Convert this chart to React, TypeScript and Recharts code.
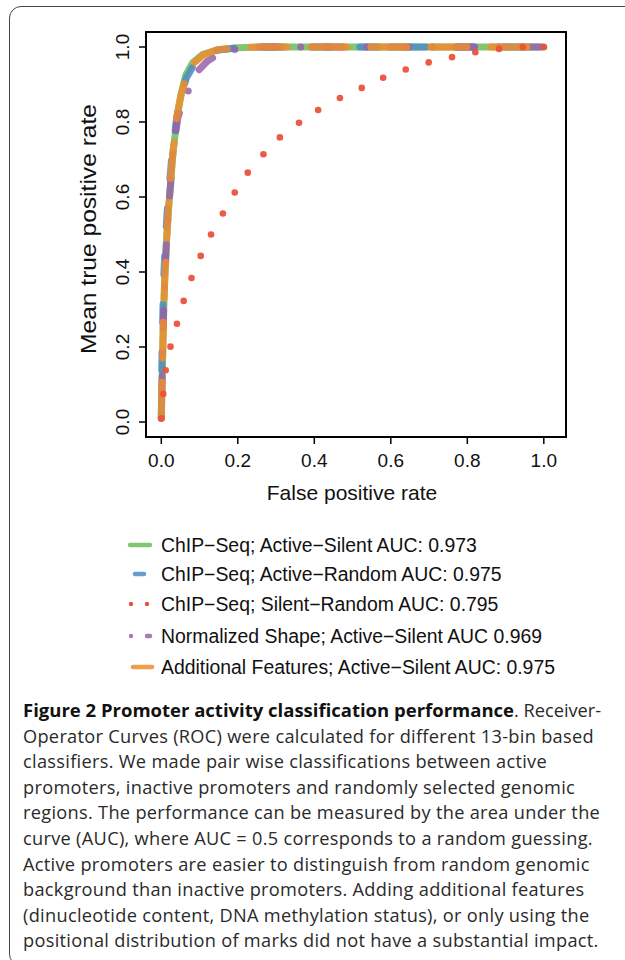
import React from "react";
import { LineChart, Line, XAxis, YAxis, ReferenceArea } from "recharts";

// ROC curves, values
const greenFpr = [0, 0.002, 0.004, 0.006, 0.009, 0.013, 0.018, 0.025, 0.031, 0.036, 0.041, 0.053, 0.064, 0.082, 0.108, 0.145, 0.197, 0.26, 0.5, 0.75, 1.0];
const greenTpr = [0.01, 0.11, 0.2, 0.29, 0.38, 0.47, 0.556, 0.645, 0.725, 0.765, 0.815, 0.88, 0.925, 0.958, 0.98, 0.992, 0.998, 1.0, 1.0, 1.0, 1.0];

const blueFpr = [0, 0.001, 0.002, 0.004, 0.006, 0.01, 0.015, 0.022, 0.029, 0.035, 0.04, 0.052, 0.066, 0.085, 0.11, 0.145, 0.2, 0.26, 0.5, 0.75, 1.0];
const blueTpr = [0.01, 0.11, 0.2, 0.29, 0.38, 0.47, 0.556, 0.645, 0.725, 0.765, 0.81, 0.872, 0.918, 0.952, 0.976, 0.991, 0.998, 1.0, 1.0, 1.0, 1.0];

const redFpr = [0, 0.005, 0.0115, 0.024, 0.041, 0.0585, 0.079, 0.103, 0.13, 0.161, 0.192, 0.226, 0.267, 0.31, 0.36, 0.41, 0.467, 0.524, 0.58, 0.639, 0.699, 0.76, 0.821, 0.883, 0.945, 1.0];
const redTpr = [0.01, 0.075, 0.138, 0.201, 0.262, 0.323, 0.384, 0.443, 0.5, 0.556, 0.612, 0.665, 0.714, 0.759, 0.798, 0.832, 0.864, 0.891, 0.918, 0.94, 0.959, 0.973, 0.986, 0.995, 1.0, 1.0];

const purpleFpr = [0, 0.002, 0.004, 0.006, 0.009, 0.013, 0.018, 0.025, 0.031, 0.037, 0.043, 0.057, 0.073, 0.095, 0.12, 0.145, 0.175, 0.21, 0.26, 0.5, 0.75, 1.0];
const purpleTpr = [0.01, 0.11, 0.2, 0.29, 0.38, 0.47, 0.556, 0.645, 0.725, 0.765, 0.81, 0.855, 0.888, 0.935, 0.962, 0.978, 0.99, 0.997, 1.0, 1.0, 1.0, 1.0];

const orangeFpr = [0, 0.002, 0.004, 0.006, 0.009, 0.013, 0.018, 0.024, 0.031, 0.036, 0.04, 0.052, 0.065, 0.083, 0.11, 0.145, 0.197, 0.26, 0.5, 0.75, 1.0];
const orangeTpr = [0.01, 0.11, 0.2, 0.29, 0.38, 0.47, 0.556, 0.645, 0.725, 0.76, 0.81, 0.875, 0.92, 0.955, 0.979, 0.992, 0.999, 1.0, 1.0, 1.0, 1.0];

const ticks = [0, 0.2, 0.4, 0.6, 0.8, 1.0];

const seriesNames = [
  "ChIP\u2212Seq; Active\u2212Silent AUC: 0.973",
  "ChIP\u2212Seq; Active\u2212Random AUC: 0.975",
  "ChIP\u2212Seq; Silent\u2212Random AUC: 0.795",
  "Normalized Shape; Active\u2212Silent AUC 0.969",
  "Additional Features; Active\u2212Silent AUC: 0.975",
];

const captionRest = [
  "Operator Curves (ROC) were calculated for different 13-bin based",
  "classifiers. We made pair wise classifications between active",
  "promoters, inactive promoters and randomly selected genomic",
  "regions. The performance can be measured by the area under the",
  "curve (AUC), where AUC = 0.5 corresponds to a random guessing.",
  "Active promoters are easier to distinguish from random genomic",
  "background than inactive promoters. Adding additional features",
  "(dinucleotide content, DNA methylation status), or only using the",
  "positional distribution of marks did not have a substantial impact.",
];

const GREEN = "#6cbc5c";
const BLUE = "#4f8cc6";
const RED = "#e9533a";
const PURPLE = "#9862a8";
const ORANGE = "#f08c2e";

const zip = (xs: number[], ys: number[]) => xs.map((x, i) => ({ x, y: ys[i] }));

const axisFont = "'Liberation Sans', Arial, Helvetica, sans-serif";

const YTick = (props: any) => {
  const { x, y, payload } = props;
  const cx = x - 15;
  return (
    <text x={cx} y={y} transform={`rotate(-90 ${cx} ${y})`} textAnchor="middle" dominantBaseline="central" fontSize={19} fontFamily={axisFont} fill="#111">
      {payload.value.toFixed(1)}
    </text>
  );
};

const XTick = (props: any) => {
  const { x, y, payload } = props;
  return (
    <text x={x} y={y + 21} textAnchor="middle" fontSize={19} fontFamily={axisFont} fill="#111">
      {payload.value.toFixed(1)}
    </text>
  );
};

function Swatch({ i }: { i: number }) {
  const common = { strokeWidth: 4.5, strokeLinecap: "round" as const, strokeOpacity: 0.85 };
  return (
    <svg width={40} height={24} style={{ position: "absolute", left: 0, top: 0 }}>
      {i === 0 && <line x1={10} x2={30} y1={12} y2={12} stroke={GREEN} {...common} />}
      {i === 1 && <line x1={15} x2={24} y1={12} y2={12} stroke={BLUE} {...common} />}
      {i === 2 && (
        <>
          <circle cx={11} cy={12} r={2.2} fill={RED} />
          <circle cx={27} cy={12} r={2.2} fill={RED} />
        </>
      )}
      {i === 3 && (
        <>
          <circle cx={11} cy={12} r={2.2} fill={PURPLE} fillOpacity={0.85} />
          <line x1={27} x2={30} y1={12} y2={12} stroke={PURPLE} {...common} />
        </>
      )}
      {i === 4 && <line x1={13} x2={32} y1={12} y2={12} stroke={ORANGE} {...common} />}
    </svg>
  );
}

const legendRows = [545, 574, 604, 636, 667];

export default function App() {
  return (
    <div style={{ position: "fixed", left: 0, top: 0, width: 625, height: 960, overflow: "hidden", background: "#fff" }}>
      <div
        style={{
          position: "absolute",
          left: 9,
          top: 6,
          width: 660,
          height: 960,
          border: "1.5px solid #444",
          borderRadius: 12,
          boxSizing: "border-box",
        }}
      />
      <div style={{ position: "absolute", left: 0, top: 0 }}>
        <LineChart width={625} height={520} margin={{ top: 32, right: 59, bottom: 23, left: 106 }}>
          <XAxis
            type="number"
            dataKey="x"
            domain={[-0.04, 1.058]}
            ticks={ticks}
            allowDataOverflow
            height={60}
            axisLine={false}
            tickSize={7}
            tickLine={{ stroke: "#000", strokeWidth: 1.5 }}
            tick={<XTick />}
            label={{
              content: (p: any) => (
                <text x={p.viewBox.x + p.viewBox.width / 2 - 4} y={p.viewBox.y + 63} textAnchor="middle" fontSize={21} fontFamily={axisFont} fill="#111">
                  False positive rate
                </text>
              ),
            }}
          />
          <YAxis
            type="number"
            dataKey="y"
            domain={[-0.04, 1.04]}
            ticks={ticks}
            allowDataOverflow
            width={40}
            axisLine={false}
            tickSize={7}
            tickLine={{ stroke: "#000", strokeWidth: 1.5 }}
            tick={<YTick />}
            label={{
              content: (p: any) => {
                const cx = p.viewBox.x - 18;
                const cy = p.viewBox.y + 197;
                return (
                  <text
                    x={cx}
                    y={cy}
                    transform={`rotate(-90 ${cx} ${cy})`}
                    textAnchor="middle"
                    dominantBaseline="central"
                    fontSize={22}
                    textLength={250}
                    lengthAdjust="spacingAndGlyphs"
                    fontFamily={axisFont}
                    fill="#111"
                  >
                    Mean true positive rate
                  </text>
                );
              },
            }}
          />
          <ReferenceArea x1={-0.04} x2={1.058} y1={-0.04} y2={1.04} fill="none" stroke="#000" strokeWidth={2} ifOverflow="visible" />
          <Line data={zip(greenFpr, greenTpr)} dataKey="y" stroke={GREEN} strokeWidth={7} strokeOpacity={0.85} strokeLinecap="round" strokeLinejoin="round" dot={false} activeDot={false} isAnimationActive={false} />
          <Line data={zip(blueFpr, blueTpr)} dataKey="y" stroke={BLUE} strokeWidth={7} strokeOpacity={0.85} strokeLinecap="round" strokeDasharray="18 30" dot={false} activeDot={false} isAnimationActive={false} />
          <Line data={zip(redFpr, redTpr)} dataKey="y" stroke="none" dot={{ r: 3.3, fill: RED, stroke: "none", fillOpacity: 0.95 }} activeDot={false} isAnimationActive={false} />
          <Line data={zip(purpleFpr, purpleTpr)} dataKey="y" stroke={PURPLE} strokeWidth={7} strokeOpacity={0.85} strokeLinecap="round" strokeDasharray="0 24 18 24" dot={false} activeDot={false} isAnimationActive={false} />
          <Line data={zip(orangeFpr, orangeTpr)} dataKey="y" stroke={ORANGE} strokeWidth={7} strokeOpacity={0.85} strokeLinecap="round" strokeDasharray="36 24" dot={false} activeDot={false} isAnimationActive={false} />
        </LineChart>
      </div>
      {seriesNames.map((name, i) => (
        <div key={name} style={{ position: "absolute", left: 120, top: legendRows[i] - 12, height: 24, width: 480 }}>
          <Swatch i={i} />
          <span style={{ position: "absolute", left: 41, top: 0, lineHeight: "24px", fontSize: 19.4, fontFamily: axisFont, color: "#111", whiteSpace: "nowrap" }}>
            {name}
          </span>
        </div>
      ))}
      <div style={{ position: "absolute", left: 23, top: 697, fontFamily: "'Open Sans', 'Noto Sans', sans-serif", fontSize: 18.2, letterSpacing: 0.3, lineHeight: "25.6px", color: "#2a2a2a", whiteSpace: "nowrap" }}>
        <div style={{ letterSpacing: 0 }}>
          <b style={{ fontSize: 18.5, color: "#111" }}>Figure 2 Promoter activity classification performance</b>. Receiver-
        </div>
        {captionRest.map((l) => (
          <div key={l}>{l}</div>
        ))}
      </div>
    </div>
  );
}
